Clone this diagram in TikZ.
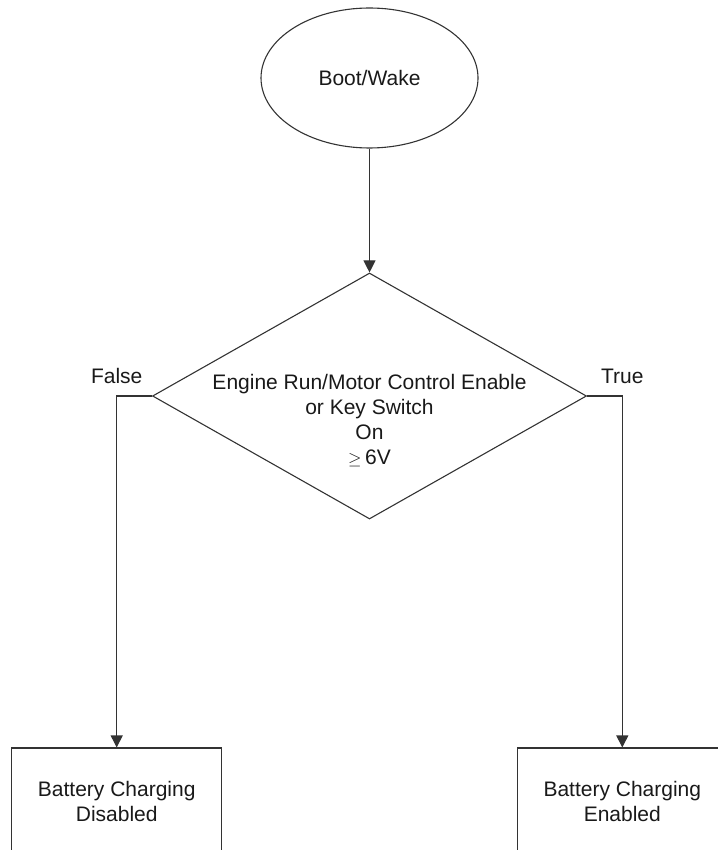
\documentclass[tikz,border=0pt]{standalone}
\usepackage{fontspec}
\setmainfont{Liberation Sans}
\usepackage{tikz}
\usetikzlibrary{arrows.meta,shapes.geometric}
\begin{document}
\begin{tikzpicture}[x=1pt,y=-1pt,
    every node/.style={font=\fontsize{21}{25}\selectfont,text=black!90},
    shp/.style={draw=black!80,line width=1.1pt},
    flow/.style={draw=black!80,line width=1.1pt,-{Triangle[length=12pt,width=12pt]}}]
              \useasboundingbox (0,0) rectangle (717,850);
              \node[shp,ellipse,minimum width=217,minimum height=140](boot)at(369.5,78){Boot/Wake};
              \node[shp,diamond,minimum width=434,minimum height=246,inner sep=0pt](cond)at(369.5,396){};
              \node[align=center](condtext)at(369.5,421){Engine Run/Motor Control Enable\\or Key Switch\\On\\{\fontsize{17}{17}\selectfont$\geq$}\,6V};
              \node[shp,minimum width=210,minimum height=106,align=center](off)at(116.7,801){Battery Charging\\Disabled};
              \node[shp,minimum width=210,minimum height=106,align=center](on)at(622.3,801){Battery Charging\\Enabled};
              \draw[flow](boot)--(cond);
              \draw[flow](cond.west)-|node[above=8pt]{False}(off.north);
              \draw[flow](cond.east)-|node[above=8pt]{True}(on.north);
            \end{tikzpicture}
\end{document}
